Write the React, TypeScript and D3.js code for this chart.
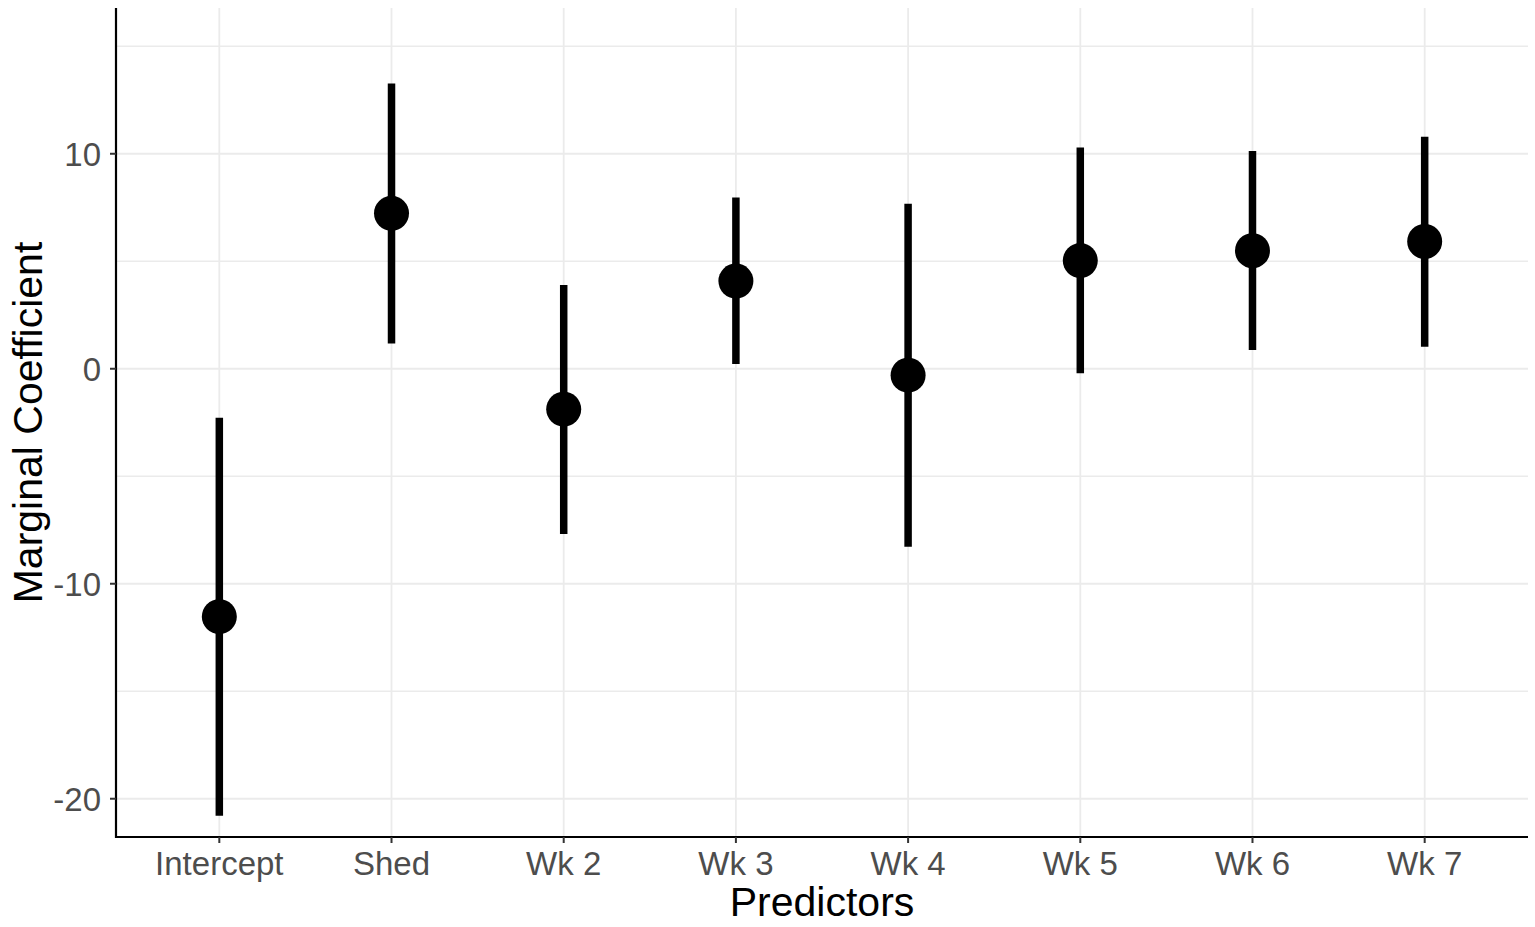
import React from "react";
import * as d3 from "d3";

// values
const predictors = ["Intercept", "Shed", "Wk 2", "Wk 3", "Wk 4", "Wk 5", "Wk 6", "Wk 7"];
const estimates = [-11.53, 7.23, -1.88, 4.08, -0.3, 5.03, 5.49, 5.92];
const lowerCI = [-20.79, 1.18, -7.69, 0.22, -8.28, -0.21, 0.87, 1.02];
const upperCI = [-2.28, 13.27, 3.9, 7.97, 7.67, 10.29, 10.13, 10.79];
const majorTicks = [-20, -10, 0, 10];
const minorTicks = [-15, -5, 5, 15];

const W = 1535;
const H = 927;
const margin = { top: 8, right: 7, bottom: 90, left: 116 };
const FONT = "Arial, 'Liberation Sans', Helvetica, sans-serif";

const App: React.FC = () => {
    const x = d3
        .scalePoint<string>()
        .domain(predictors)
        .range([margin.left, W - margin.right])
        .padding(0.6);

    const y = d3
        .scaleLinear()
        .domain([-21.78, 16.78])
        .range([H - margin.bottom, margin.top]);

    const x0 = margin.left;
    const x1 = W - margin.right;
    const y0 = H - margin.bottom;
    const y1 = margin.top;

    return (
        <div style={{ position: "absolute", left: 0, top: 0 }}>
            <svg width={W} height={H} style={{ display: "block", background: "#fff" }} fontFamily={FONT}>
                {/* grid */}
                {minorTicks.map((t) => (
                    <line key={"mi" + t} x1={x0} x2={x1} y1={y(t)} y2={y(t)} stroke="#EBEBEB" strokeWidth={1.4} />
                ))}
                {majorTicks.map((t) => (
                    <line key={"ma" + t} x1={x0} x2={x1} y1={y(t)} y2={y(t)} stroke="#EBEBEB" strokeWidth={1.8} />
                ))}
                {predictors.map((p) => (
                    <line key={"v" + p} x1={x(p)} x2={x(p)} y1={y1} y2={y0} stroke="#EBEBEB" strokeWidth={1.8} />
                ))}

                {/* error bars */}
                {predictors.map((p, i) => (
                    <line
                        key={"e" + p}
                        x1={x(p)}
                        x2={x(p)}
                        y1={y(lowerCI[i])}
                        y2={y(upperCI[i])}
                        stroke="#000"
                        strokeWidth={7.5}
                    />
                ))}

                {/* points */}
                {predictors.map((p, i) => (
                    <circle key={"c" + p} cx={x(p)} cy={y(estimates[i])} r={17.5} fill="#000" />
                ))}

                {/* axes */}
                <line x1={x0} x2={x0} y1={y1} y2={y0 + 1} stroke="#000" strokeWidth={2.2} />
                <line x1={x0 - 1} x2={x1} y1={y0} y2={y0} stroke="#000" strokeWidth={2.2} />

                {majorTicks.map((t) => (
                    <g key={"yt" + t}>
                        <line x1={x0 - 6} x2={x0} y1={y(t)} y2={y(t)} stroke="#333" strokeWidth={2} />
                        <text
                            x={x0 - 15}
                            y={y(t)}
                            dy="0.36em"
                            textAnchor="end"
                            fontSize={33}
                            fill="#4D4D4D"
                        >
                            {t}
                        </text>
                    </g>
                ))}

                {predictors.map((p) => (
                    <g key={"xt" + p}>
                        <line x1={x(p)} x2={x(p)} y1={y0} y2={y0 + 6} stroke="#333" strokeWidth={2} />
                        <text x={x(p)} y={875} textAnchor="middle" fontSize={33} fill="#4D4D4D">
                            {p}
                        </text>
                    </g>
                ))}

                {/* axis titles */}
                <text x={(x0 + x1) / 2} y={916} textAnchor="middle" fontSize={41} fill="#000">
                    Predictors
                </text>
                <text
                    transform={`translate(42,${(y0 + y1) / 2}) rotate(-90)`}
                    textAnchor="middle"
                    fontSize={41}
                    fill="#000"
                >
                    Marginal Coefficient
                </text>
            </svg>
        </div>
    );
};

export default App;
